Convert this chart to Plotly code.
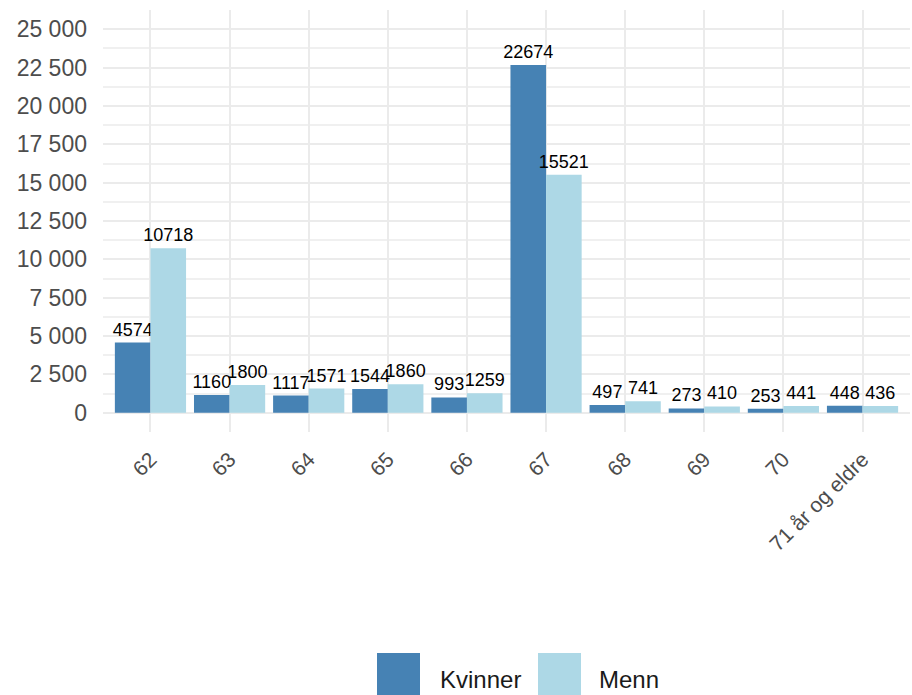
import plotly.graph_objects as go

categories = ["62", "63", "64", "65", "66", "67", "68", "69", "70", "71 år og eldre"]
kvinner = [4574, 1160, 1117, 1544, 993, 22674, 497, 273, 253, 448]
menn = [10718, 1800, 1571, 1860, 1259, 15521, 741, 410, 441, 436]
series_names = ["Kvinner", "Menn"]
y_ticks = [0, 2500, 5000, 7500, 10000, 12500, 15000, 17500, 20000, 22500, 25000]

colors = ["#4682b4", "#add8e6"]
font_family = "Liberation Sans, Arial, sans-serif"

W, H = 912, 695
L, R, T, B = 103, 2, 10, 263
pw, ph = W - L - R, H - T - B

fig = go.Figure()
for name, vals, col in zip(series_names, [kvinner, menn], colors):
    fig.add_trace(go.Bar(
        x=categories, y=vals, name=name, marker_color=col, marker_line_width=0,
        text=[str(v) for v in vals], textposition="outside",
        textfont=dict(size=18, color="black", family=font_family),
        constraintext="none", cliponaxis=False, showlegend=False,
    ))

# legend drawn as large swatches (ggplot style)
def px_x(x):
    return (x - L) / pw
def px_y(y):
    return (H - B - y) / ph

swatch_left = [377, 538]
text_left = [438, 597]
for i, (name, col) in enumerate(zip(series_names, colors)):
    fig.add_shape(type="rect", xref="paper", yref="paper",
                  x0=px_x(swatch_left[i]), x1=px_x(swatch_left[i] + 43),
                  y0=px_y(653), y1=px_y(700), fillcolor=col, line_width=0, layer="above")
    fig.add_annotation(xref="paper", yref="paper", x=px_x(text_left[i]), y=px_y(680),
                       xanchor="left", yanchor="middle", text=name, showarrow=False,
                       font=dict(size=24, color="#1a1a1a", family=font_family))

fig.update_layout(
    width=W, height=H,
    margin=dict(l=L, r=R, t=T, b=B, autoexpand=False),
    paper_bgcolor="white", plot_bgcolor="white",
    barmode="group", bargap=0.1, bargroupgap=0,
    separators=", ",
    font=dict(family=font_family, color="#4d4d4d"),
    showlegend=False,
)
fig.update_xaxes(
    range=[-0.6, 9.6], tickangle=-45, tickfont=dict(size=21, color="#4d4d4d"),
    showgrid=True, gridcolor="#ebebeb", gridwidth=2, zeroline=False, ticks="",
    showline=False, ticklabelstandoff=10, automargin=False,
)
fig.update_yaxes(
    range=[-1260, 26260], tickvals=y_ticks, tickformat=",d",
    tickfont=dict(size=23, color="#4d4d4d"),
    showgrid=True, gridcolor="#ebebeb", gridwidth=2, zeroline=False, ticks="",
    minor=dict(dtick=1250, tick0=1250, showgrid=True, gridcolor="#f0f0f0", gridwidth=1.5),
    ticklabelstandoff=15, automargin=False,
)
fig.write_html("out.html", config={"displayModeBar": False},
               post_script="document.body.style.margin='0';")
